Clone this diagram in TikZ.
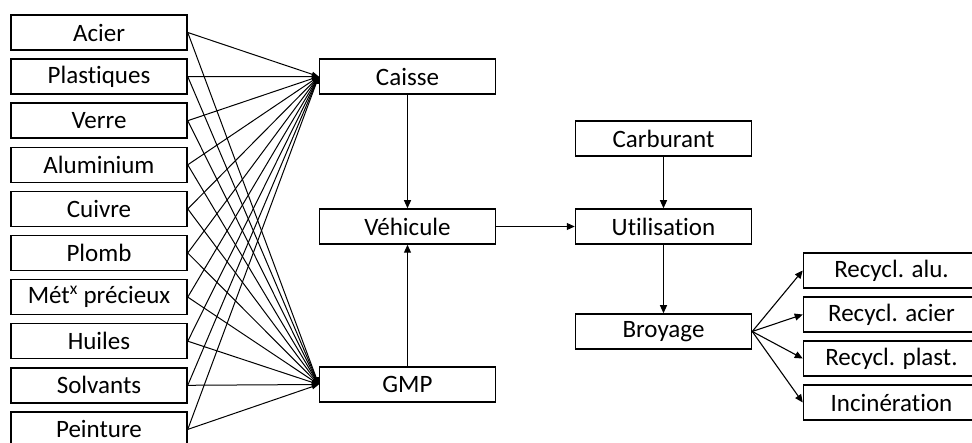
\documentclass[tikz,border=0pt]{standalone}
\usepackage{fontspec}
\setmainfont{Carlito}[Ligatures=NoCommon]
\usetikzlibrary{arrows.meta}
\begin{document}
\begin{tikzpicture}[x=1pt,y=-1pt,
  box/.style={draw=black,line width=1.5pt,fill=white,minimum width=176pt,minimum height=35pt,inner sep=0pt,font=\fontsize{25}{30}\selectfont},
  conn/.style={line width=1.1pt,-{Triangle[length=8pt,width=7pt]}},
  link/.style={line width=1pt,-{Triangle[length=7pt,width=5pt]}}]
\useasboundingbox[fill=white] (0,0) rectangle (972,443);
\foreach \t [count=\i from 0] in {Acier,Plastiques,Verre,Aluminium,Cuivre,Plomb,{Mét\textsuperscript{x} précieux},Huiles,Solvants,Peinture}{
  \node[box] (m\i) at (99,32.5+44.1*\i) {\t};
}
\node[box] (caisse) at (407.5,76.5) {Caisse};
\node[box] (veh) at (407.5,226.5) {Véhicule};
\node[box] (gmp) at (407.5,384.5) {GMP};
\node[box] (carb) at (663.5,138.5) {Carburant};
\node[box] (util) at (663.5,226.5) {Utilisation};
\node[box] (broy) at (663.5,331.5) {Broyage};
\node[box] (ralu) at (891.5,270.5) {Recycl. alu.};
\node[box] (racier) at (891.5,314.5) {Recycl. acier};
\node[box] (rplast) at (891.5,358.5) {Recycl. plast.};
\node[box] (rinc) at (891.5,402.5) {Incinération};
\foreach \i in {0,...,9}{
  \draw[link] (m\i.east) -- (caisse.west);
  \draw[link] (m\i.east) -- (gmp.west);
}
\draw[conn] (caisse) -- (veh);
\draw[conn] (gmp) -- (veh);
\draw[conn] (veh) -- (util);
\draw[conn] (carb) -- (util);
\draw[conn] (util) -- (broy);
\foreach \r in {ralu,racier,rplast,rinc}{
  \draw[conn] (broy.east) -- (\r.west);
}
\end{tikzpicture}
\end{document}
